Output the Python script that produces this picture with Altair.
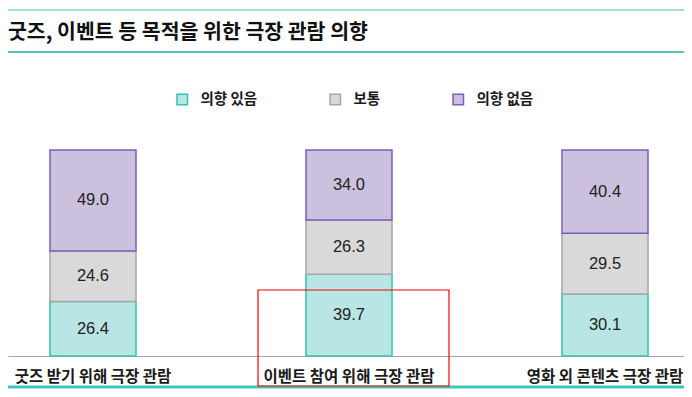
import altair as alt
import pandas as pd

categories = ["굿즈 받기 위해 극장 관람", "이벤트 참여 위해 극장 관람", "영화 외 콘텐츠 극장 관람"]
series = ["의향 있음", "보통", "의향 없음"]
yes_vals = [26.4, 39.7, 30.1]
neutral_vals = [24.6, 26.3, 29.5]
no_vals = [49.0, 34.0, 40.4]

fills = ["#b9e5e4", "#d9d9d9", "#cbc1de"]
strokes = ["#2fc4b4", "#a6a6a6", "#7b60b8"]

rows = []
for i, c in enumerate(categories):
    for k, (s, vals) in enumerate(zip(series, [yes_vals, neutral_vals, no_vals])):
        rows.append({"category": c, "series": s, "value": vals[i], "order": k})
df = pd.DataFrame(rows)

FONT = "Noto Sans CJK KR"

x_scale = alt.Scale(paddingInner=0.664, paddingOuter=0.164, range=[0, 682])
x_axis = alt.Axis(
    title=None, ticks=False, labelAngle=0, labelPadding=13,
    labelFont=FONT, labelFontSize=15.5, labelFontWeight="bold", labelColor="#1a1a1a",
    domainColor="#a6a6a6", domainWidth=1, grid=False,
)
y_scale = alt.Scale(domain=[0, 100], nice=False, zero=True)

base = alt.Chart(df)

bars = base.mark_bar(strokeWidth=1.5).encode(
    x=alt.X("category:N", sort=categories, scale=x_scale, axis=x_axis),
    y=alt.Y("value:Q", stack="zero", scale=y_scale, axis=None),
    order=alt.Order("order:Q"),
    fill=alt.Fill(
        "series:N",
        scale=alt.Scale(domain=series, range=fills),
        legend=alt.Legend(
            title=None, orient="none", direction="horizontal",
            legendX=167, legendY=-58, symbolType="square", symbolSize=110,
            symbolStrokeWidth=1.5, labelFont=FONT, labelFontSize=14.5,
            labelFontWeight="bold", labelColor="#1a1a1a", columnPadding=69,
            labelOffset=11,
        ),
    ),
    stroke=alt.Stroke("series:N", scale=alt.Scale(domain=series, range=strokes)),
)

labels = base.transform_stack(
    stack="value", groupby=["category"], as_=["v0", "v1"], sort=[alt.SortField("order")]
).transform_calculate(
    mid="(datum.v0 + datum.v1) / 2"
).mark_text(
    font="Liberation Sans", fontSize=16.5, color="#222222"
).encode(
    x=alt.X("category:N", sort=categories, scale=x_scale, axis=x_axis),
    y=alt.Y("mid:Q", scale=y_scale, axis=None),
    text=alt.Text("value:Q", format=".1f"),
)

title_df = pd.DataFrame({"t": ["굿즈, 이벤트 등 목적을 위한 극장 관람 의향"]})
title = alt.Chart(title_df).mark_text(
    font=FONT, fontSize=20.5, fontWeight="bold", color="#111111", align="left", baseline="middle"
).encode(x=alt.value(0), y=alt.value(-117), text="t:N")

line_df = pd.DataFrame({"k": [1]})
top_line = alt.Chart(line_df).mark_rule(color="#86d8cd", strokeWidth=1.5).encode(
    x=alt.value(0), x2=alt.value(676), y=alt.value(-140)
)
mid_line = alt.Chart(line_df).mark_rule(color="#1fb0a3", strokeWidth=1.5).encode(
    x=alt.value(0), x2=alt.value(676), y=alt.value(-98)
)
bottom_line = alt.Chart(line_df).mark_rule(color="#3cc9b9", strokeWidth=3).encode(
    x=alt.value(0), x2=alt.value(676), y=alt.value(237)
)
red_box = alt.Chart(line_df).mark_rect(fill=None, stroke="#ff0000", strokeWidth=1.2).encode(
    x=alt.value(250), x2=alt.value(441), y=alt.value(140), y2=alt.value(236)
)

chart = alt.layer(
    top_line, mid_line, title, bars, labels, bottom_line, red_box
).properties(
    width=676, height=206,
    background="white",
    autosize=alt.AutoSizeParams(type="none"),
    padding={"left": 0, "top": 142, "right": 0, "bottom": 33},
).configure_view(strokeWidth=0)

chart.save("out.html", embed_options={"renderer": "svg", "actions": False})
